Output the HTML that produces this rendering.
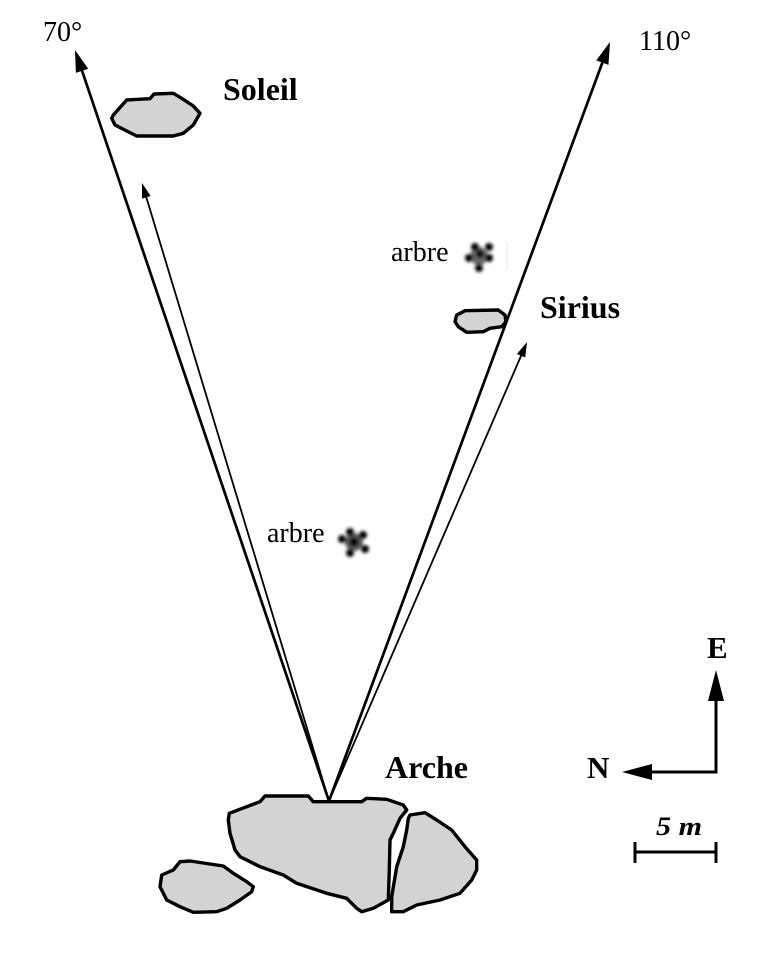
<!DOCTYPE html>
<html>
<head>
<meta charset="utf-8">
<style>
html,body{margin:0;padding:0;background:#fff;}
svg{display:block;}
text{font-family:"Liberation Serif","DejaVu Serif",serif;fill:#000;}
.b{font-weight:bold;}
</style>
</head>
<body>
<svg width="768" height="956" viewBox="0 0 768 956" xmlns="http://www.w3.org/2000/svg">
<defs>
<filter id="bl" x="-50%" y="-50%" width="200%" height="200%">
<feGaussianBlur stdDeviation="1.6"/>
</filter>
</defs>
<rect width="768" height="956" fill="#fff"/>

<!-- rocks -->
<g fill="#d3d3d3" stroke="#000" stroke-width="3.4" stroke-linejoin="round">
<polygon points="113.3,115 126.7,100 150,98.7 154,94 173.3,93.3 181.7,98.3 193.3,106 200,113.3 193.3,125 183.3,133.3 173.3,136 136.7,136 126.7,131 115,125 111.7,118.3"/>
<polygon points="456.7,315 465,310.7 498.3,310 505,315 506,321.7 501.7,326.7 490,328.3 483.3,331.7 466.7,332.3 458.3,326.7 455,321.7"/>
<polygon points="229.3,813.3 260,801.7 265,796 308.3,796 313.3,801.7 361.7,801.7 366.7,798.3 386.7,799.3 403.3,805 406.7,810 400,818.3 393.3,833.3 390,840 389.3,870 388.3,900 373.3,908.3 361.7,911.7 356.7,908.3 346.7,898.3 326.7,893.3 296.7,883.3 283.3,875 260,866.7 240,856.7 235,850 230,833.3 228.3,820"/>
<polygon points="410,815 425,812.7 436.7,820 451.7,830 465,846.7 476.7,860 476.7,870 471.7,880 460,893.3 440,900 416.7,905 403.3,911.7 391.7,911.7 391.7,896.7 396.7,866.7 403.3,846.7 406.7,830 408.3,818.3"/>
<polygon points="180,861.7 190,861 223.3,866 233.3,873.3 246.7,881.7 253.3,886.7 251.7,891.7 240,900 226.7,908.3 216.7,911.7 193.3,912.3 180,906.7 166.7,900 160,886.7 161.7,875 173.3,870"/>
</g>

<!-- trees -->
<g filter="url(#bl)">
<circle cx="479" cy="256" r="9" fill="#666"/>
<g fill="#000">
<circle cx="475" cy="247" r="4"/>
<circle cx="489" cy="247" r="4"/>
<circle cx="469" cy="258" r="4"/>
<circle cx="480" cy="254" r="4"/>
<circle cx="489" cy="258" r="4"/>
<circle cx="479" cy="268" r="4"/>
</g>
</g>
<line x1="507" y1="242" x2="507" y2="270" stroke="#f2f2f2" stroke-width="2"/>
<g filter="url(#bl)">
<circle cx="354" cy="542" r="9" fill="#555"/>
<g fill="#000">
<circle cx="350" cy="532" r="4"/>
<circle cx="363" cy="535" r="4"/>
<circle cx="342" cy="539" r="4"/>
<circle cx="354" cy="542" r="4.5"/>
<circle cx="365" cy="549" r="4"/>
<circle cx="350" cy="553" r="4"/>
</g>
</g>

<!-- long arrows -->
<g stroke="#000" stroke-width="2.7" stroke-linecap="round">
<line x1="329" y1="801" x2="82.05" y2="70.84"/>
<line x1="329" y1="801" x2="602.36" y2="62.63"/>
</g>
<polygon points="75,50 88.2,68.76 75.9,72.9" fill="#000"/>
<polygon points="610,42 608.46,64.89 596.26,60.37" fill="#000"/>

<!-- short arrows -->
<g stroke="#000" stroke-width="1.8" stroke-linecap="round">
<line x1="329" y1="801" x2="146.34" y2="197.36"/>
<line x1="329" y1="801" x2="521.06" y2="355.77"/>
</g>
<polygon points="142,183 150.65,196.06 142.03,198.66" fill="#000"/>
<polygon points="527,342 525.19,357.55 516.93,353.99" fill="#000"/>

<!-- compass -->
<g stroke="#000" stroke-width="3" fill="none">
<polyline points="716,700 716,772 650,772"/>
<line x1="634" y1="852" x2="717" y2="852"/>
<line x1="635" y1="842" x2="635" y2="863"/>
<line x1="716" y1="842" x2="716" y2="863"/>
</g>
<polygon points="716,670 708,701 724,701" fill="#000"/>
<polygon points="622,772 652,764 652,780" fill="#000"/>

<!-- labels -->
<text x="43" y="41" font-size="28">70°</text>
<text x="639" y="50" font-size="28">110°</text>
<text x="223" y="100" font-size="32" class="b">Soleil</text>
<text x="391" y="261" font-size="28">arbre</text>
<text x="540" y="318" font-size="32" class="b">Sirius</text>
<text x="267" y="542" font-size="28">arbre</text>
<text x="385" y="778" font-size="32" class="b">Arche</text>
<text x="707" y="658" font-size="31" class="b">E</text>
<text x="587" y="778" font-size="31" class="b">N</text>
<text x="656" y="835" font-size="26" font-weight="bold" font-style="italic" textLength="46" lengthAdjust="spacingAndGlyphs">5 m</text>
</svg>
</body>
</html>
